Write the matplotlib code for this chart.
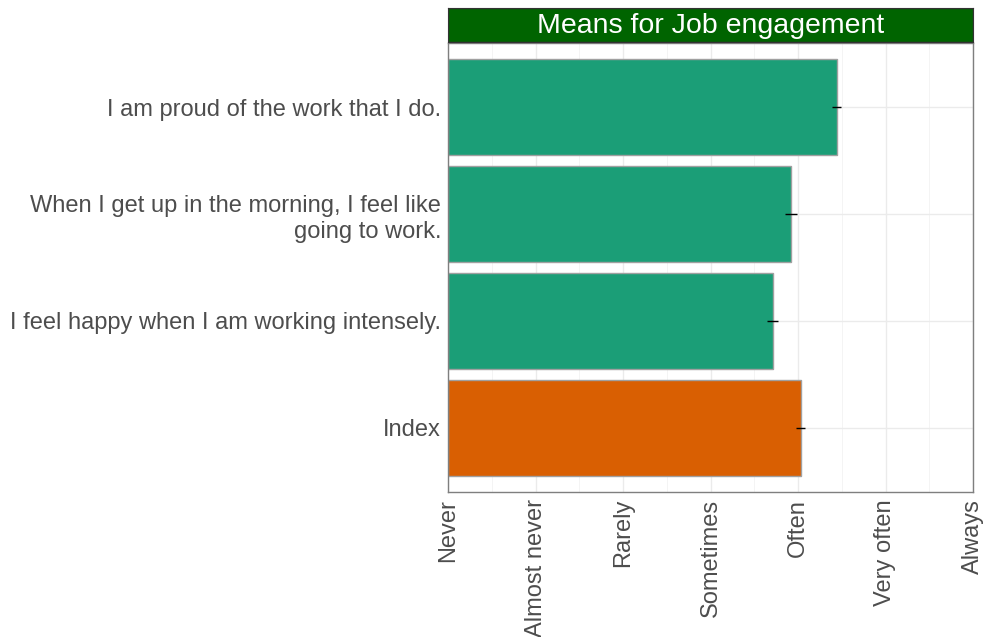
import matplotlib
matplotlib.use("Agg")
import matplotlib.pyplot as plt
from matplotlib.patches import Rectangle
import numpy as np

plt.rcParams['font.family'] = ['Liberation Sans', 'DejaVu Sans']

categories = ["Index",
              "I feel happy when I am working intensely.",
              "When I get up in the morning, I feel like\ngoing to work.",
              "I am proud of the work that I do."]
means = [4.03, 3.71, 3.92, 4.44]
errors = [0.055, 0.06, 0.063, 0.057]
colors = ["#D95F02", "#1B9E77", "#1B9E77", "#1B9E77"]
tick_labels = ["Never", "Almost never", "Rarely", "Sometimes", "Often", "Very often", "Always"]
title = "Means for Job engagement"

fig = plt.figure(figsize=(9.86, 6.37), dpi=100)
ax = fig.add_axes([448/986, 1-492/637, (973-448)/986, (492-43)/637])

y = np.arange(1, len(categories) + 1)
ax.barh(y, means, height=0.9, color=colors, edgecolor="#A0A0A0", linewidth=1.0, zorder=2)
ax.errorbar(means, y, xerr=errors, fmt="none", ecolor="black", elinewidth=1.0, capsize=0, zorder=3)

ax.set_xlim(0, 6)
ax.set_ylim(0.4, 4.6)
ax.set_xticks(range(7))
ax.set_xticklabels(tick_labels, rotation=90, fontsize=17, color="#4D4D4D")
ax.set_xticks(np.arange(0.5, 6, 1), minor=True)
ax.set_yticks(y)
ax.set_yticklabels(categories, fontsize=17, color="#4D4D4D", linespacing=1.25)
ax.tick_params(axis="both", which="both", length=0, pad=5)
ax.grid(True, which="major", color="#EBEBEB", linewidth=1.0, zorder=0)
ax.grid(True, which="minor", axis="x", color="#F2F2F2", linewidth=0.6, zorder=0)
ax.set_axisbelow(True)
for s in ax.spines.values():
    s.set_color("#7F7F7F")
    s.set_linewidth(1.0)

# strip
sax = fig.add_axes([448/986, 1-42/637, (973-448)/986, (42-8)/637])
sax.set_xlim(0, 1); sax.set_ylim(0, 1)
sax.add_patch(Rectangle((0, 0), 1, 1, facecolor="#006400", edgecolor="#333333", linewidth=1.0))
sax.text(0.5, 0.48, title, ha="center", va="center", color="white", fontsize=20.5)
sax.set_xticks([]); sax.set_yticks([])
for s in sax.spines.values():
    s.set_color("#333333")

fig.savefig("out.png", dpi=100)
